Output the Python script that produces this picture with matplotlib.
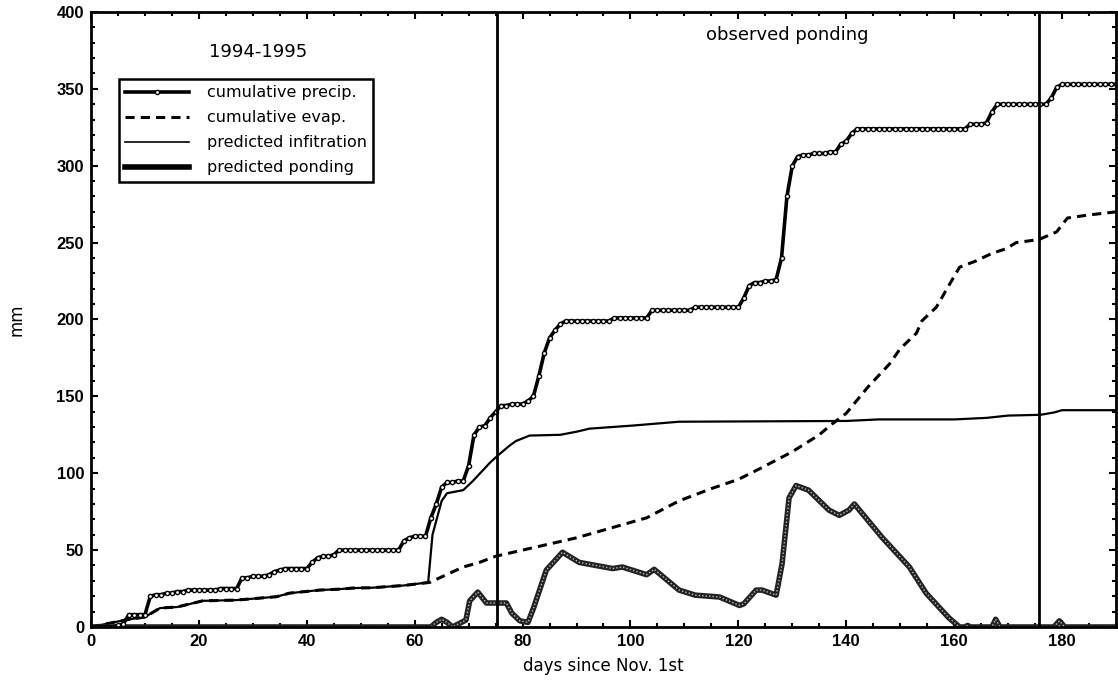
import numpy as np
import matplotlib.pyplot as plt
from matplotlib.lines import Line2D
from matplotlib.ticker import MultipleLocator

plt.rcParams['font.family'] = ['DejaVu Sans']

# cumulative precipitation, one value per day (day 0 .. 190), mm
precip = [
    0, 0, 0, 0, 0, 1, 2, 8, 8, 8,
    8, 20, 21, 21, 22, 22, 23, 23, 24, 24,
    24, 24, 24, 24, 25, 25, 25, 25, 32, 32,
    33, 33, 33, 34, 36, 37, 38, 38, 38, 38,
    38, 42, 45, 46, 46, 47, 50, 50, 50, 50,
    50, 50, 50, 50, 50, 50, 50, 50, 56, 58,
    59, 59, 59, 71, 80, 91, 94, 94, 95, 95,
    105, 125, 130, 131, 136, 140, 144, 144, 145, 145,
    145, 147, 150, 163, 178, 188, 193, 197, 199, 199,
    199, 199, 199, 199, 199, 199, 199, 201, 201, 201,
    201, 201, 201, 201, 206, 206, 206, 206, 206, 206,
    206, 206, 208, 208, 208, 208, 208, 208, 208, 208,
    208, 214, 222, 224, 224, 225, 225, 226, 240, 280,
    300, 306, 307, 307, 308, 308, 308, 309, 309, 314,
    316, 321, 324, 324, 324, 324, 324, 324, 324, 324,
    324, 324, 324, 324, 324, 324, 324, 324, 324, 324,
    324, 324, 324, 327, 327, 327, 328, 335, 340, 340,
    340, 340, 340, 340, 340, 340, 340, 340, 344, 351,
    353, 353, 353, 353, 353, 353, 353, 353, 353, 353,
    353,
]
precip_days = np.arange(len(precip))

# cumulative evaporation
evap_days = [0, 6.3, 10, 12.8, 16, 20.7, 27, 34.4, 36.8, 42.4, 46, 48.5, 52, 58,
             62.8, 66.5, 69, 72, 75, 80, 85, 90, 97, 103, 109, 115, 120, 124,
             130, 135, 137, 140, 144, 148, 150, 153, 154, 156.7, 159, 161, 164,
             167, 169.6, 171.5, 175.7, 179, 181, 185, 190]
evap = [0, 4.5, 6.5, 12.3, 13, 17, 17.5, 19.7, 22, 24, 24.6, 25.3, 25.5, 27,
        29, 35, 39, 42, 46, 50, 54, 58, 65, 71, 82, 90, 96, 103,
        114, 125, 131, 139, 156, 171, 181, 191, 199, 208, 222, 234, 238,
        243, 246, 250, 252, 257, 266, 268, 270]

# predicted infiltration
infil_days = [0, 6.3, 10, 12.8, 16, 20.7, 27, 34.4, 36.8, 42.4, 46, 48.5, 52, 58,
              62.5, 63.3, 65, 66, 69, 70.8, 74, 75.4, 77.6, 78.8, 81.3, 87, 90,
              92.4, 100.4, 109, 140, 146, 160, 166, 170, 176, 178.5, 180, 190]
infil = [0, 4.5, 6.5, 12.3, 13, 17, 17.5, 19.7, 22, 24, 24.6, 25.3, 25.5, 27,
         29, 60, 82, 87, 89, 95, 107, 111.5, 118, 121, 124.5, 125, 127,
         129, 131, 133.5, 134, 135, 135, 136, 137.5, 138, 139.5, 141, 141]

# predicted ponding
pond_days = [0, 63, 64, 65, 66, 67, 69.5, 70.2, 71.7, 73.3, 77, 78, 79.5, 81, 82,
             84.4, 87.4, 90.5, 96.7, 98.5, 103, 104.4, 109, 112, 116.5, 120.2,
             121, 123.3, 124.4, 127, 128.1, 129.4, 130.7, 133, 136.8, 138.7,
             140.5, 141.5, 146.7, 151.7, 154.8, 159, 161, 162, 162.5, 163, 167,
             167.7, 168.5, 178.5, 179.5, 180.5, 190]
pond = [0, 0, 3, 5, 3, 0, 4.5, 17, 22.7, 15.6, 15.6, 9, 4, 3, 12,
        37, 48.6, 42, 38, 39, 34, 37.5, 24, 20.7, 19.5, 14,
        15, 24, 24, 20.7, 41, 84, 92, 89, 76, 72.6,
        76, 80, 58, 39, 22, 6, 0, 0, 1, 0, 0,
        5, 0, 0, 4, 0, 0]

obs_start, obs_end = 75.2, 175.8

fig = plt.figure(figsize=(11.18, 6.85), dpi=100)
ax = fig.add_axes([0.0814, 0.0847, 0.9168, 0.8978])

ax.plot(infil_days, infil, color='black', lw=1.6)
ax.plot(evap_days, evap, color='black', lw=2.2, ls=(0, (3, 2)))
ax.plot(pond_days, pond, color='#222222', lw=4.0, solid_joinstyle='round')
ax.plot(pond_days, pond, color='#bbbbbb', lw=1.0, ls=(0, (1, 1.5)))
ax.plot(precip_days, precip, color='black', lw=2.6, marker='o', ms=3.0,
        mfc='white', mec='black', mew=1.0)

ax.axvline(obs_start, color='black', lw=2.0)
ax.axvline(obs_end, color='black', lw=2.0)

ax.set_xlim(0, 190)
ax.set_ylim(0, 400)
ax.xaxis.set_major_locator(MultipleLocator(20))
ax.xaxis.set_minor_locator(MultipleLocator(5))
ax.yaxis.set_major_locator(MultipleLocator(50))
ax.yaxis.set_minor_locator(MultipleLocator(10))
ax.tick_params(which='both', direction='in', top=True, right=True, width=1.5)
ax.tick_params(which='major', length=5, labelsize=12, pad=5)
ax.tick_params(which='minor', length=3)
for s in ax.spines.values():
    s.set_linewidth(2.0)
for lab in ax.get_xticklabels() + ax.get_yticklabels():
    lab.set_fontfamily('Liberation Sans')
    lab.set_fontweight('bold')

ax.set_xlabel('days since Nov. 1st', fontsize=12, labelpad=6)
ax.set_ylabel('mm', fontsize=12, labelpad=22)

ax.text(30.9, 374, '1994-1995', fontsize=13, ha='center', va='center')
ax.text(129, 385, 'observed ponding', fontsize=13, ha='center', va='center')

handles = [
    Line2D([0, 0.5, 1], [0, 0, 0], color='black', lw=2.6, marker='o', ms=3.0,
           mfc='white', mec='black', markevery=[1]),
    Line2D([], [], color='black', lw=2.2, ls=(0, (3, 2))),
    Line2D([], [], color='black', lw=1.2),
    Line2D([], [], color='black', lw=4.0),
]
labels = ['cumulative precip.', 'cumulative evap.', 'predicted infitration', 'predicted ponding']
leg = ax.legend(handles, labels, loc='upper left', bbox_to_anchor=(0.0273, 0.891),
                fontsize=11.5, handlelength=4.0, handletextpad=1.1, labelspacing=0.62,
                borderpad=0.4, borderaxespad=0, fancybox=False, framealpha=1,
                edgecolor='black')
leg.get_frame().set_linewidth(1.8)

fig.savefig('out.png', dpi=100)
